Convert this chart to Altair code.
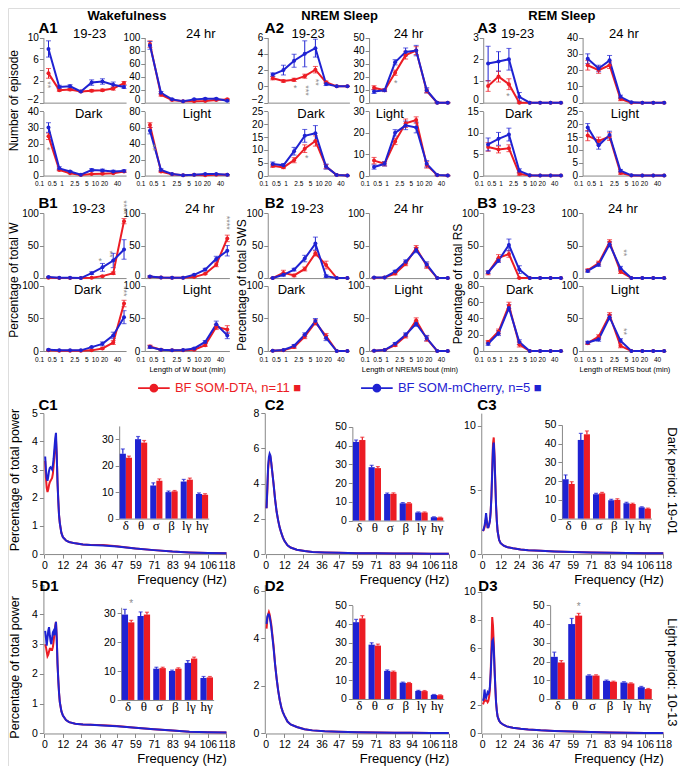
import altair as alt
import pandas as pd

# ---------------------------------------------------------------- data
SERIES = ["BF SOM-DTA, n=11", "BF SOM-mCherry, n=5"]
BIN_LABELS = ["0.1", "0.5", "1", "2.5", "5", "10", "20", "40"]
BANDS = ["δ", "θ", "σ", "β", "lγ", "hγ"]
FREQ_TICKS = [0, 12, 24, 36, 47, 59, 71, 83, 94, 106, 118]

# A: number of episodes per bout-length bin
A_W_1923 = dict(dta=[3.4, 0.3, 0.4, 0.05, 0.2, 0.3, 0.6, 1.6], dta_e=[0.9, 0.2, 0.2, 0.1, 0.2, 0.2, 0.3, 0.3],
                mch=[7.9, 0.9, 1.0, 0.05, 1.7, 1.9, 1.3, 0.9], mch_e=[1.5, 0.3, 0.3, 0.1, 0.5, 0.5, 0.5, 0.3])
A_W_24 = dict(dta=[90, 12, 4, 2, 2, 2.5, 4, 5], dta_e=[5, 2, 1, 0.5, 0.5, 0.5, 1, 1],
              mch=[88, 15, 5, 2, 5, 6, 6, 3], mch_e=[6, 2, 1, 0.5, 1, 1, 1, 1])
A_W_DARK = dict(dta=[24.5, 3.5, 1.5, 0.3, 1, 1.2, 1.5, 2.5], dta_e=[2, 0.5, 0.3, 0.2, 0.3, 0.3, 0.3, 0.4],
                mch=[30, 4.5, 2.5, 0.5, 3.5, 3.2, 2.5, 2.8], mch_e=[3, 1, 0.5, 0.3, 0.8, 0.8, 0.8, 0.8])
A_W_LIGHT = dict(dta=[63, 5, 1.5, 0.5, 1, 0.5, 1, 1], dta_e=[3, 1, 0.4, 0.2, 0.2, 0.2, 0.3, 0.3],
                 mch=[56, 7, 2, 0.5, 1, 2, 2, 1], mch_e=[4, 1.5, 0.5, 0.2, 0.3, 0.5, 0.5, 0.4])
A_N_1923 = dict(dta=[1.0, 0.65, 0.8, 1.25, 2.05, 0.5, 0, 0], dta_e=[0.2, 0.15, 0.2, 0.25, 0.4, 0.15, 0.03, 0.03],
                mch=[1.45, 2.0, 3.15, 4.0, 4.7, 0.3, 0, 0], mch_e=[0.2, 0.6, 0.8, 1.6, 1.1, 0.2, 0.03, 0.03])
A_N_24 = dict(dta=[11.5, 9.5, 23, 36.5, 40, 9, 0, 0], dta_e=[1.5, 1, 2, 3, 3, 1.5, 0.2, 0.2],
              mch=[8.5, 9.5, 31, 39, 40, 9.5, 0, 0], mch_e=[1.5, 1, 2, 3, 4, 2, 0.2, 0.2])
A_N_DARK = dict(dta=[3.8, 3.2, 6, 10.5, 13.5, 3.5, 0.2, 0], dta_e=[0.6, 0.5, 1, 1.5, 2, 0.8, 0.1, 0.1],
                mch=[4.5, 4, 9.5, 15.5, 16.5, 3.5, 0.2, 0], mch_e=[0.8, 0.7, 1.5, 2.5, 3, 1, 0.1, 0.1])
A_N_LIGHT = dict(dta=[7, 5.5, 16, 24.5, 26, 5, 0.2, 0], dta_e=[1.5, 1, 1.5, 2, 1.5, 1.5, 0.1, 0.1],
                 mch=[4, 5.5, 20, 23.5, 22.5, 5.5, 0.3, 0], mch_e=[1, 1, 1.5, 2, 2.5, 1.5, 0.1, 0.1])
A_R_1923 = dict(dta=[0.77, 1.2, 0.85, 0, 0, 0, 0, 0], dta_e=[0.25, 0.25, 0.25, 0.03, 0, 0, 0, 0],
                mch=[1.8, 1.9, 2.0, 0.27, 0, 0, 0, 0], mch_e=[0.8, 0.45, 0.5, 0.2, 0, 0, 0, 0])
A_R_24 = dict(dta=[23, 20, 23, 2.2, 0, 0, 0, 0], dta_e=[3, 2, 2, 1, 0.1, 0, 0, 0],
              mch=[27, 21, 26, 3.6, 0.2, 0, 0, 0], mch_e=[3, 2, 3, 1, 0.2, 0, 0, 0])
A_R_DARK = dict(dta=[6.7, 6.1, 6.4, 0.4, 0, 0, 0, 0], dta_e=[1, 0.8, 0.8, 0.3, 0, 0, 0, 0],
                mch=[7.3, 8.6, 9.6, 1.1, 0.1, 0, 0, 0], mch_e=[1.5, 1.5, 1.5, 0.5, 0.1, 0, 0, 0])
A_R_LIGHT = dict(dta=[15.6, 13.5, 15.2, 1, 0, 0, 0, 0], dta_e=[2, 1.5, 1.5, 0.5, 0, 0, 0, 0],
                 mch=[18.8, 11.8, 15.8, 1.9, 0.1, 0, 0, 0], mch_e=[1.5, 1.5, 1.5, 0.5, 0.1, 0, 0, 0])

# B: percentage of total time per bout-length bin
B_W_1923 = dict(dta=[0.5, 0.3, 0.3, 0, 0.5, 3, 7.5, 87.5], dta_e=[0.3, 0.2, 0.2, 0.1, 0.3, 1, 2, 4],
                mch=[1.5, 0.5, 0.5, 0, 7.5, 16.5, 27, 44], mch_e=[1, 0.3, 0.3, 0.2, 2, 6, 11, 15])
B_W_24 = dict(dta=[2, 1, 0.5, 0.5, 1.5, 6.5, 20.5, 61], dta_e=[1, 0.3, 0.2, 0.2, 0.5, 1, 3, 5],
              mch=[2.5, 1, 0.5, 0.5, 5, 13, 29.5, 42], mch_e=[1, 0.3, 0.2, 0.2, 1, 2, 4, 8])
B_W_DARK = dict(dta=[1, 0.5, 0.5, 0.5, 1, 4, 13, 73], dta_e=[0.5, 0.3, 0.3, 0.2, 0.5, 1, 3, 5],
                mch=[2, 1, 1, 1, 6, 11, 24, 52], mch_e=[1, 0.5, 0.3, 0.3, 1, 3, 5, 10])
B_W_LIGHT = dict(dta=[7, 2, 1, 1, 2, 9, 37, 33], dta_e=[2, 1, 0.5, 0.5, 1, 2, 4, 6],
                 mch=[6, 2, 1, 1.5, 4, 14, 41, 24], mch_e=[2, 1, 0.5, 0.5, 1, 2, 5, 5])
B_N_1923 = dict(dta=[0, 8, 4, 14, 38, 20, 0, 0], dta_e=[0.5, 4, 2, 3, 4, 6, 0, 0],
                mch=[0, 5, 13, 30, 53, 3, 0, 0], mch_e=[0.5, 2, 2, 5, 10, 2, 0, 0])
B_N_24 = dict(dta=[0.5, 1, 7, 22, 46, 19, 0, 0], dta_e=[0.3, 0.5, 2, 3, 4, 4, 0, 0],
              mch=[1, 1, 10, 25, 43, 21, 0, 0], mch_e=[0.3, 0.5, 2, 3, 4, 4, 0, 0])
B_N_DARK = dict(dta=[0.5, 1, 6, 22, 44, 23, 0, 0], dta_e=[0.3, 0.5, 2, 3, 4, 4, 0, 0],
                mch=[0.5, 1.5, 8, 25, 46, 20, 0, 0], mch_e=[0.3, 0.5, 2, 3, 4, 4, 0, 0])
B_N_LIGHT = dict(dta=[0.5, 1.5, 9, 23, 47, 19, 0, 0], dta_e=[0.3, 0.5, 2, 3, 4, 4, 0, 0],
                 mch=[0.5, 1.5, 11, 25, 42, 20, 0, 0], mch_e=[0.3, 0.5, 2, 3, 4, 4, 0, 0])
B_R_1923 = dict(dta=[8, 31, 37, 0, 0, 0, 0, 0], dta_e=[3, 5, 5, 0.5, 0, 0, 0, 0],
                mch=[9, 27, 51, 13, 0, 0, 0, 0], mch_e=[2, 3, 9, 6, 0, 0, 0, 0])
B_R_24 = dict(dta=[12, 23, 55, 10, 0, 0, 0, 0], dta_e=[2, 3, 4, 3, 0, 0, 0, 0],
              mch=[11, 21, 52, 15, 0, 0, 0, 0], mch_e=[2, 3, 4, 3, 0, 0, 0, 0])
B_R_DARK = dict(dta=[11, 24, 56, 8, 0, 0, 0, 0], dta_e=[2, 3, 4, 3, 0, 0, 0, 0],
                mch=[9, 22, 53, 11, 0, 0, 0, 0], mch_e=[2, 3, 4, 3, 0, 0, 0, 0])
B_R_LIGHT = dict(dta=[12, 22, 55, 8, 0, 0, 0, 0], dta_e=[2, 3, 4, 3, 0, 0, 0, 0],
                 mch=[13, 18, 52, 16, 0, 0, 0, 0], mch_e=[2, 3, 4, 3, 0, 0, 0, 0])

# C/D: power spectra (% of total power)
F_FINE = [0.5, 1, 1.5, 2, 2.5, 3, 3.5, 4, 4.5, 5, 5.5, 6, 6.5, 7, 7.5, 8, 8.5, 9, 9.5, 10,
          11, 12, 14, 16, 20, 25, 30, 38, 47, 59, 71, 83, 94, 106, 118]
F_NREM = [0.5, 1, 1.5, 2, 2.5, 3, 3.5, 4, 5, 6, 7, 8, 9, 10, 11, 12, 14, 16, 20, 25, 30,
          38, 47, 59, 71, 83, 94, 106, 118]
C1_MCH = [3.46, 3.0, 2.7, 2.6, 2.75, 2.95, 3.05, 3.08, 3.05, 3.0, 3.15, 3.4, 3.75, 4.1, 4.3, 3.5, 2.55, 1.9,
          1.37, 1.1, 0.75, 0.6, 0.48, 0.43, 0.38, 0.34, 0.32, 0.3, 0.27, 0.2, 0.14, 0.09, 0.06, 0.04, 0.03]
C1_DTA = [3.3, 2.7, 2.35, 2.2, 2.3, 2.45, 2.55, 2.6, 2.65, 2.7, 2.85, 3.15, 3.5, 3.85, 4.05, 3.5, 2.55, 1.9,
          1.37, 1.1, 0.75, 0.6, 0.48, 0.43, 0.38, 0.34, 0.32, 0.32, 0.28, 0.2, 0.14, 0.09, 0.06, 0.04, 0.03]
C2_MCH = [2.6, 3.8, 5.0, 5.5, 5.7, 5.6, 5.2, 4.8, 4.0, 3.1, 2.4, 1.9, 1.5, 1.2, 0.95, 0.75, 0.5, 0.37, 0.25, 0.17,
          0.12, 0.09, 0.07, 0.05, 0.04, 0.03, 0.03, 0.02, 0.02]
C2_DTA = [2.6, 3.6, 4.8, 5.3, 5.5, 5.5, 5.2, 4.8, 4.0, 3.1, 2.4, 1.9, 1.5, 1.2, 0.95, 0.75, 0.5, 0.37, 0.25, 0.17,
          0.12, 0.09, 0.07, 0.05, 0.04, 0.03, 0.03, 0.02, 0.02]
C3_MCH = [1.8, 2.0, 2.2, 2.6, 3.2, 2.6, 2.1, 2.1, 2.3, 2.6, 3.3, 4.5, 6.3, 8.2, 8.7, 7.5, 5.6, 3.8, 2.6, 1.8,
          1.1, 0.85, 0.65, 0.55, 0.45, 0.35, 0.3, 0.25, 0.2, 0.16, 0.12, 0.1, 0.08, 0.07, 0.06]
C3_DTA = [1.8, 1.9, 2.1, 2.4, 2.9, 2.5, 2.1, 2.1, 2.3, 2.6, 3.3, 4.6, 6.6, 8.6, 9.1, 7.7, 5.7, 3.8, 2.6, 1.8,
          1.1, 0.85, 0.65, 0.55, 0.45, 0.35, 0.3, 0.25, 0.2, 0.16, 0.12, 0.1, 0.08, 0.07, 0.06]
D1_MCH = [3.45, 3.2, 2.95, 3.2, 3.45, 3.57, 3.3, 3.1, 3.0, 3.2, 3.4, 3.45, 3.3, 3.55, 3.75, 3.2, 2.35, 1.8,
          1.36, 1.05, 0.75, 0.6, 0.45, 0.38, 0.33, 0.3, 0.29, 0.27, 0.24, 0.19, 0.14, 0.1, 0.06, 0.04, 0.03]
D1_DTA = [3.0, 2.9, 2.75, 2.6, 2.65, 2.75, 2.85, 2.85, 2.8, 2.8, 2.9, 3.1, 3.35, 3.6, 3.75, 3.2, 2.35, 1.8,
          1.36, 1.05, 0.75, 0.6, 0.45, 0.38, 0.33, 0.3, 0.29, 0.28, 0.25, 0.19, 0.14, 0.1, 0.06, 0.04, 0.03]
D2_MCH = [4.6, 4.9, 5.0, 5.0, 4.9, 4.7, 4.5, 4.2, 3.6, 2.9, 2.3, 1.8, 1.4, 1.1, 0.9, 0.75, 0.5, 0.38, 0.27, 0.18,
          0.13, 0.09, 0.07, 0.05, 0.04, 0.03, 0.03, 0.02, 0.02]
D2_DTA = [4.4, 4.8, 5.0, 5.1, 5.0, 4.8, 4.6, 4.3, 3.7, 2.9, 2.3, 1.8, 1.4, 1.1, 0.9, 0.75, 0.5, 0.38, 0.27, 0.18,
          0.13, 0.09, 0.07, 0.05, 0.04, 0.03, 0.03, 0.02, 0.02]
D3_MCH = [2.3, 2.5, 3.1, 2.6, 2.5, 2.7, 2.9, 2.8, 2.9, 3.3, 4.2, 5.4, 6.5, 6.6, 6.0, 4.6, 3.3, 2.2, 1.6, 1.2,
          0.9, 0.75, 0.6, 0.5, 0.4, 0.33, 0.28, 0.22, 0.18, 0.14, 0.1, 0.07, 0.05, 0.04, 0.03]
D3_DTA = [2.05, 2.2, 2.4, 2.3, 2.3, 2.3, 2.2, 2.3, 2.6, 3.1, 4.3, 6.1, 8.2, 7.6, 6.4, 4.7, 3.3, 2.2, 1.6, 1.2,
          0.9, 0.75, 0.6, 0.5, 0.4, 0.33, 0.28, 0.22, 0.18, 0.14, 0.1, 0.07, 0.05, 0.04, 0.03]

# inset bars: % power per band
IN_C1 = dict(dta=[23, 28.7, 14.3, 10.3, 14.7, 9], dta_e=[0.6, 0.8, 0.7, 0.3, 0.6, 0.4],
             mch=[24.5, 30, 12.5, 10, 14, 9.3], mch_e=[1.8, 1, 1, 0.4, 0.8, 0.4])
IN_C2 = dict(dta=[43, 28, 14.3, 9.2, 4.3, 1.6], dta_e=[1.5, 0.8, 0.5, 0.4, 0.3, 0.2],
             mch=[42, 28.5, 14.2, 9.2, 4.3, 1.8], mch_e=[1, 1, 0.5, 0.4, 0.3, 0.2])
IN_C3 = dict(dta=[18.5, 45, 13.5, 10, 7.8, 5.3], dta_e=[1.2, 1.8, 0.5, 0.6, 0.4, 0.3],
             mch=[21, 42, 13, 9.8, 8.2, 6], mch_e=[2.3, 3.5, 0.5, 0.5, 0.5, 0.3])
IN_D1 = dict(dta=[26.8, 29.5, 11, 10.8, 14.3, 7.8], dta_e=[0.7, 0.8, 0.3, 0.3, 0.5, 0.3],
             mch=[29.5, 29, 10.8, 10, 12.8, 7.6], mch_e=[1.8, 1.4, 0.5, 0.3, 0.8, 0.5])
IN_D2 = dict(dta=[43, 28.5, 14.5, 8.5, 4.2, 2], dta_e=[1.5, 0.8, 0.4, 0.3, 0.3, 0.2],
             mch=[41, 29, 15, 8.7, 4.3, 2.2], mch_e=[1.5, 1, 0.5, 0.3, 0.3, 0.2])
IN_D3 = dict(dta=[19.5, 44.5, 12.5, 9.2, 8.3, 5.3], dta_e=[1, 1.2, 0.4, 0.3, 0.3, 0.3],
             mch=[22.5, 40, 12.5, 9.7, 8.8, 6.3], mch_e=[2.5, 3, 0.4, 0.4, 0.4, 0.4])

# ---------------------------------------------------------------- style / layout
W, H = 672, 758
RED, BLUE = "#ec1c24", "#1f22d2"
STAR = "#8c8c8c"
FONT = "Liberation Sans"
SERIF = "Liberation Serif"
CSCALE = alt.Scale(domain=SERIES, range=[RED, BLUE])
COLOR_EXPR = f"datum.value == '{SERIES[0]}' ? '{RED}' : '{BLUE}'"
SX, SY = 672 / 683, 758 / 769


def PX(v):
    return (v - 4) * SX


def PY(v):
    return (v - 2) * SY


BIN_TICKS = [-0.45, 0.3, 1.2, 2.4, 3.5, 4.3, 5.15, 6.35]
BIN_EXPR = " : ".join(f"abs(datum.value - ({p})) < 0.05 ? '{l}'" for p, l in zip(BIN_TICKS, BIN_LABELS)) + " : ''"
BIN_ALIGN = {"condition": {"test": "datum.value < 0", "value": "right"}, "value": "center"}
XDOM = [-0.47, 7.19]
COLS = [(40, 124), (143, 229), (268, 351), (371, 453), (487, 568), (588, 673)]
ROWS = [(32, 98), (107, 172), (210, 276), (284, 350)]

LEGEND = alt.Legend(orient="none", legendX=PX(135), legendY=PY(370), direction="horizontal", title=None,
                    symbolType="M-1,0L1,0M0.22,0A0.22,0.22,0,1,1,-0.22,0A0.22,0.22,0,1,1,0.22,0",
                    symbolSize=1000, symbolStrokeWidth=1.8, symbolOpacity=1, labelFontSize=13, labelFont=FONT,
                    labelOffset=4, columnPadding=52, labelExpr="datum.label + '  \u25a0'",
                    labelColor=alt.ExprRef(COLOR_EXPR),
                    symbolFillColor=alt.ExprRef(COLOR_EXPR),
                    symbolStrokeColor=alt.ExprRef(COLOR_EXPR))


def col():
    return alt.Color("s:N", scale=CSCALE, legend=LEGEND)


def bout_panel(d, c, r, ydom, yticks, bottom=False, xtitle=None, stars=()):
    x0, x1 = COLS[c]
    yt, yb = ROWS[r]
    recs = []
    for s, k in ((SERIES[0], "dta"), (SERIES[1], "mch")):
        for i, (v, e) in enumerate(zip(d[k], d[k + "_e"])):
            recs.append({"i": i, "v": v, "lo": v - e, "hi": v + e, "e": e, "s": s})
    df = pd.DataFrame(recs)
    xs = alt.Scale(domain=XDOM, range=[PX(x0), PX(x1)], nice=False, zero=False)
    ys = alt.Scale(domain=ydom, range=[PY(yb), PY(yt)], nice=False, zero=False)
    xax = alt.Axis(orient="bottom", offset=PY(yb) - H, ticks=False, labels=bottom, values=BIN_TICKS,
                   labelExpr=BIN_EXPR, labelAlign=BIN_ALIGN, labelFontSize=6.5, labelPadding=5,
                   labelOverlap=False, labelFlush=False, grid=False, title=xtitle, titleFontSize=7.5,
                   titleFontWeight="normal", titlePadding=3)
    ykw = dict(orient="left", offset=-PX(x0), values=yticks, tickSize=4, labelFontSize=10,
               labelPadding=1, grid=False, title=None)
    if r in (0, 2):
        # lift the lowest label a little so it clears the top label of the panel below
        ykw["labelBaseline"] = {"condition": {"test": f"datum.value == {ydom[0]}", "value": "alphabetic"},
                                "value": "middle"}
    yax = alt.Axis(**ykw)
    X = alt.X("i:Q", scale=xs, axis=xax)
    Yf = lambda f: alt.Y(f, type="quantitative", scale=ys, axis=yax)
    base = alt.Chart(df)
    eb = base.transform_filter("datum.e > 0")
    layers = [
        eb.mark_rule(strokeWidth=1).encode(x=X, y=Yf("lo"), y2="hi:Q", color=col()),
        eb.mark_tick(orient="horizontal", size=5, thickness=1).encode(x=X, y=Yf("hi"), color=col()),
        eb.mark_tick(orient="horizontal", size=5, thickness=1).encode(x=X, y=Yf("lo"), color=col()),
        base.mark_line(strokeWidth=2).encode(x=X, y=Yf("v"), color=col()),
        base.mark_circle(size=16, opacity=1).encode(x=X, y=Yf("v"), color=col()),
    ]
    if stars:
        sdf = pd.DataFrame([{"i": a, "y": b, "t": t, "a": g} for a, b, t, g in stars])
        layers.append(alt.Chart(sdf).mark_text(color=STAR, fontSize=9, font=FONT, baseline="middle").encode(
            x=X, y=Yf("y"), text="t:N", angle=alt.Angle("a:Q", scale=None)))
    return alt.layer(*layers)


def spec_panel(freqs, dta, mch, xr, yaxis_x, yr, ydom, yticks):
    df_d = pd.DataFrame({"f": freqs, "v": dta, "s": SERIES[0]})
    df_m = pd.DataFrame({"f": freqs, "v": mch, "s": SERIES[1]})
    xs = alt.Scale(domain=[0, 118], range=[PX(xr[0]), PX(xr[1])], nice=False, zero=False)
    ys = alt.Scale(domain=ydom, range=[PY(yr[0]), PY(yr[1])], nice=False, zero=False)
    xax = alt.Axis(orient="bottom", offset=PY(yr[0]) - H, values=FREQ_TICKS, tickSize=4, labelFontSize=10.5,
                   labelPadding=2, labelFlush=False, labelOverlap=False, title="Frequency (Hz)",
                   titleAnchor="end", titleFontSize=13, titleFontWeight="normal", titlePadding=3, grid=False)
    yax = alt.Axis(orient="left", offset=-PX(yaxis_x), values=yticks, tickSize=4, labelFontSize=10.5,
                   labelPadding=2, grid=False, title=None)
    X = alt.X("f:Q", scale=xs, axis=xax)
    Y = alt.Y("v:Q", scale=ys, axis=yax)
    return alt.layer(
        alt.Chart(df_d).mark_line(strokeWidth=2).encode(x=X, y=Y, color=col()),
        alt.Chart(df_m).mark_line(strokeWidth=2).encode(x=X, y=Y, color=col()),
    )


def inset(d, xr, yr, ydom, yticks, stars=()):
    recs = []
    for s, k in ((SERIES[1], "mch"), (SERIES[0], "dta")):
        for b, v, e in zip(BANDS, d[k], d[k + "_e"]):
            recs.append({"b": b, "s": s, "v": v, "hi": v + e})
    df = pd.DataFrame(recs)
    xs = alt.Scale(domain=BANDS, range=[PX(xr[0]), PX(xr[1])], paddingInner=0.2, paddingOuter=0.04)
    ys = alt.Scale(domain=ydom, range=[PY(yr[0]), PY(yr[1])], nice=False, zero=True)
    xo = alt.XOffset("s:N", scale=alt.Scale(domain=[SERIES[1], SERIES[0]], paddingInner=0, paddingOuter=0))
    xax = alt.Axis(orient="bottom", offset=PY(yr[0]) - H, ticks=False, labelFontSize=13, labelFont=SERIF,
                   labelPadding=1, labelAngle=0, grid=False, title=None)
    yax = alt.Axis(orient="left", offset=-PX(xr[0]), values=yticks, tickSize=4, labelFontSize=10.5,
                   labelPadding=2, grid=False, title=None)
    X = alt.X("b:N", scale=xs, axis=xax)
    Yf = lambda f: alt.Y(f, type="quantitative", scale=ys, axis=yax)
    base = alt.Chart(df)
    layers = [
        base.mark_bar().encode(x=X, xOffset=xo, y=Yf("v"), color=col()),
        base.mark_rule(strokeWidth=1.2).encode(x=X, xOffset=xo, y=Yf("v"), y2="hi:Q", color=col()),
        base.mark_tick(orient="horizontal", size=4, thickness=1.2).encode(x=X, xOffset=xo, y=Yf("hi"),
                                                                          color=col()),
    ]
    if stars:
        sdf = pd.DataFrame([{"b": b, "s": SERIES[0], "y": y, "t": "*"} for b, y in stars])
        layers.append(alt.Chart(sdf).mark_text(color=STAR, fontSize=10, font=FONT).encode(
            x=X, xOffset=xo, y=Yf("y"), text="t:N"))
    return alt.layer(*layers)


def txt(s, x, y, size=12, weight="normal", align="center", angle=0, color="black", font=FONT):
    kw = dict(text=s, fontSize=size, fontWeight=weight, align=align, baseline="middle", color=color, font=font)
    if angle:
        kw["angle"] = angle
    return alt.Chart(pd.DataFrame({"k": [0]})).mark_text(**kw).encode(x=alt.value(PX(x)), y=alt.value(PY(y)))


T10 = list(range(-2, 11, 2))
panels = [
    bout_panel(A_W_1923, 0, 0, [-2, 10], T10, stars=[(0, 1.3, "**", 90)]),
    bout_panel(A_W_24, 1, 0, [0, 100], [0, 20, 40, 60, 80, 100]),
    bout_panel(A_W_DARK, 0, 1, [0, 40], [0, 10, 20, 30, 40], bottom=True, stars=[(0, 16, "*", 0)]),
    bout_panel(A_W_LIGHT, 1, 1, [0, 80], [0, 20, 40, 60, 80], bottom=True, stars=[(0.3, 35, "**", 90)]),
    bout_panel(A_N_1923, 2, 0, [-2, 6], [-2, 0, 2, 4, 6],
               stars=[(2.1, -0.2, "*", 0), (3.1, -0.5, "***", 90), (4.05, 0.5, "**", 90)]),
    bout_panel(A_N_24, 3, 0, [0, 50], [0, 10, 20, 30, 40, 50], stars=[(2.05, 15, "*", 0)]),
    bout_panel(A_N_DARK, 2, 1, [0, 25], [0, 5, 10, 15, 20, 25], bottom=True, stars=[(3.2, 7, "*", 0)]),
    bout_panel(A_N_LIGHT, 3, 1, [0, 30], [0, 10, 20, 30], bottom=True),
    bout_panel(A_R_1923, 4, 0, [0, 3], [0, 1, 2, 3], stars=[(1.9, 0.3, "*", 0)]),
    bout_panel(A_R_24, 5, 0, [0, 40], [0, 10, 20, 30, 40]),
    bout_panel(A_R_DARK, 4, 1, [0, 15], [0, 5, 10, 15], bottom=True),
    bout_panel(A_R_LIGHT, 5, 1, [0, 25], [0, 5, 10, 15, 20, 25], bottom=True),
    bout_panel(B_W_1923, 0, 2, [0, 100], [0, 50, 100],
               stars=[(4.8, 27, "*", 0), (5.7, 37, "**", 90), (7, 109, "****", 90)]),
    bout_panel(B_W_24, 1, 2, [0, 100], [0, 50, 100], stars=[(7, 85, "****", 90)]),
    bout_panel(B_W_DARK, 0, 3, [0, 100], [0, 50, 100], bottom=True, stars=[(7, 92, "***", 90)]),
    bout_panel(B_W_LIGHT, 1, 3, [0, 100], [0, 50, 100], bottom=True, xtitle="Length of W bout (min)"),
    bout_panel(B_N_1923, 2, 2, [0, 100], [0, 50, 100]),
    bout_panel(B_N_24, 3, 2, [0, 100], [0, 50, 100]),
    bout_panel(B_N_DARK, 2, 3, [0, 100], [0, 50, 100], bottom=True),
    bout_panel(B_N_LIGHT, 3, 3, [0, 100], [0, 50, 100], bottom=True, xtitle="Length of NREMS bout (min)"),
    bout_panel(B_R_1923, 4, 2, [0, 100], [0, 50, 100]),
    bout_panel(B_R_24, 5, 2, [0, 100], [0, 50, 100], stars=[(3.3, 39, "**", 90)]),
    bout_panel(B_R_DARK, 4, 3, [0, 80], [0, 20, 40, 60, 80], bottom=True),
    bout_panel(B_R_LIGHT, 5, 3, [0, 100], [0, 50, 100], bottom=True, xtitle="Length of REMS bout (min)",
               stars=[(3.3, 30, "**", 90)]),
    # spectra
    spec_panel(F_FINE, C1_DTA, C1_MCH, (41, 226), 40, (556, 413), [0, 5], [0, 1, 2, 3, 4, 5]),
    spec_panel(F_NREM, C2_DTA, C2_MCH, (266, 452), 265, (556, 413), [0, 8], [0, 2, 4, 6, 8]),
    spec_panel(F_FINE, C3_DTA, C3_MCH, (486, 670), 485, (556, 413), [0, 11], [0, 5, 10]),
    spec_panel(F_FINE, D1_DTA, D1_MCH, (41, 226), 40, (738, 587), [0, 5], [0, 1, 2, 3, 4, 5]),
    spec_panel(F_NREM, D2_DTA, D2_MCH, (266, 452), 265, (738, 587), [0, 6.25], [0, 2, 4, 6]),
    spec_panel(F_FINE, D3_DTA, D3_MCH, (486, 670), 485, (738, 594), [0, 10], [0, 2, 4, 6, 8, 10]),
    # insets
    inset(IN_C1, (117, 208), (520, 426), [0, 35], [0, 10, 20, 30]),
    inset(IN_C2, (354, 447), (522, 427), [0, 50], [0, 10, 20, 30, 40, 50]),
    inset(IN_C3, (567, 658), (520, 425), [0, 50], [0, 10, 20, 30, 40, 50]),
    inset(IN_D1, (119, 213), (704, 610), [0, 32], [0, 10, 20, 30], stars=[("δ", 33)]),
    inset(IN_D2, (354, 447), (703, 608), [0, 50], [0, 10, 20, 30, 40, 50]),
    inset(IN_D3, (555, 659), (703, 608), [0, 50], [0, 10, 20, 30, 40, 50], stars=[("θ", 49)]),
]

texts = [
    txt("Wakefulness", 125, 10, 13, "bold"), txt("NREM Sleep", 341, 10, 13, "bold"),
    txt("REM Sleep", 567, 10, 13, "bold"),
    txt("A1", 35, 22, 15, "bold", "left"), txt("A2", 265, 22, 15, "bold", "left"),
    txt("A3", 481, 22, 15, "bold", "left"),
    txt("B1", 35, 200, 15, "bold", "left"), txt("B2", 265, 200, 15, "bold", "left"),
    txt("B3", 481, 200, 15, "bold", "left"),
    txt("C1", 35, 405, 15, "bold", "left"), txt("C2", 265, 405, 15, "bold", "left"),
    txt("C3", 481, 405, 15, "bold", "left"),
    txt("D1", 36, 588, 15, "bold", "left"), txt("D2", 265, 588, 15, "bold", "left"),
    txt("D3", 482, 588, 15, "bold", "left"),
    # panel titles
    txt("19-23", 87, 28, 13), txt("24 hr", 200, 28, 13), txt("19-23", 309, 28, 13), txt("24 hr", 411, 28, 13),
    txt("19-23", 522, 28, 13), txt("24 hr", 630, 28, 13),
    txt("Dark", 86, 110, 13), txt("Light", 196, 110, 13), txt("Dark", 312, 110, 13), txt("Light", 392, 110, 13),
    txt("Dark", 523, 110, 13), txt("Light", 631, 110, 13),
    txt("19-23", 86, 206, 13), txt("24 hr", 199, 206, 13), txt("19-23", 308, 206, 13), txt("24 hr", 411, 206, 13),
    txt("19-23", 523, 206, 13), txt("24 hr", 629, 206, 13),
    txt("Dark", 85, 288, 13), txt("Light", 196, 288, 13), txt("Dark", 292, 288, 13), txt("Light", 411, 288, 13),
    txt("Dark", 524, 288, 13), txt("Light", 631, 288, 13),
    # y titles
    txt("Number of episode", 10.5, 96, 12, angle=270),
    txt("Percentage of total W", 10.5, 278, 12, angle=270),
    txt("Percentage of total SWS", 242, 283, 12, angle=270),
    txt("Percentage of total RS", 461, 282, 12, angle=270),
    txt("Percentage of total power", 11, 481, 12.5, angle=270),
    txt("Percentage of total power", 11, 671, 12.5, angle=270),
    txt("Dark period: 19-01", 679, 482, 13, angle=90),
    txt("Light period: 10-13", 679, 676, 13, angle=90),
]

chart = alt.layer(*panels, *texts).resolve_scale(
    x="independent", y="independent", xOffset="independent"
).properties(
    width=W, height=H, padding=0, autosize=alt.AutoSizeParams(type="none")
).configure_view(strokeWidth=0).configure_axis(
    domainColor="#222", tickColor="#222", labelColor="#111", labelFont=FONT, titleFont=FONT,
    titleColor="#111", domainWidth=1, tickWidth=1, grid=False
).configure(font=FONT, background="white")

chart.save("out.html", embed_options={"renderer": "svg", "actions": False})
